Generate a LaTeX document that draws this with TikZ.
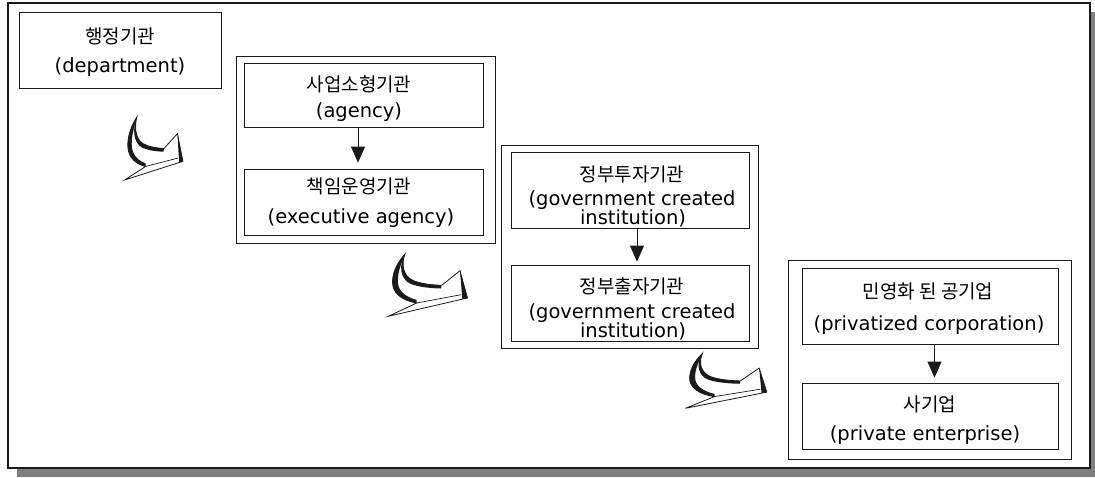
\documentclass[tikz,border=0pt]{standalone}
\usepackage{fontspec}
\setmainfont{DejaVu Sans}
\newfontfamily\kr{Noto Sans CJK KR}
\usetikzlibrary{arrows.meta,calc}
\definecolor{shadowgrey}{HTML}{7F7F7F}
\definecolor{edge}{HTML}{1A1A1A}

\tikzset{
  frameline/.style={draw=edge, line width=1.3pt, fill=white, inner sep=0pt},
  boxnode/.style={draw=edge, line width=0.8pt, inner sep=0pt},
  han/.style={font=\kr\fontsize{19pt}{23pt}\selectfont, inner sep=0pt, anchor=base},
  lat/.style={font=\fontsize{19.5pt}{23pt}\selectfont, inner sep=0pt, anchor=base},
  flow/.style={draw=edge, line width=0.8pt, -{Triangle[width=14pt,length=16pt]}},
  % hollow bent block arrow seen in perspective, with darkened sides
  pics/bendarrow/.style={code={
    % outline: tip, inner bend, notch, barb, head, lower barb, band end
    \draw[edge, line width=0.8pt, line join=miter, fill=white]
      (17,0) .. controls (13,10) and (15,22) .. (25,26.5)
      .. controls (33,30) and (45,31) .. (53.7,31.3)
      -- (72,16.7) -- (79.3,44) -- (0.3,62.3) -- (28.7,49)
      .. controls (12,46) and (4,38) .. (4.5,27)
      .. controls (5,17) and (10,8) .. (17,0) -- cycle;
    % lower face of the head
    \draw[edge, line width=0.7pt] (28.7,49) -- (73,40.7);
    % dark outer side of the band
    \fill[edge] (28.7,49) .. controls (12,46) and (4,38) .. (4.5,27)
      .. controls (5,17) and (10,8) .. (17,0)
      .. controls (14,8) and (9.8,17) .. (9.8,27)
      .. controls (9.8,36) and (16,42.5) .. (28.7,46) -- cycle;
    % dark inner side of the band
    \fill[edge] (17,0) .. controls (13,10) and (15,22) .. (25,26.5)
      .. controls (33,30) and (45,31) .. (53.7,31.3)
      -- (53,34.5) .. controls (45,34.3) and (32,33.5) .. (23,30)
      .. controls (12,25.5) and (10.5,11) .. (17,0) -- cycle;
    % dark side of the head
    \fill[edge] (72,16.7) -- (79.8,44) -- (74.3,44.9) -- cycle;
  }}
}

\begin{document}
\begin{tikzpicture}[x=1pt,y=-1pt]
\useasboundingbox (0,0) rectangle (1095,477);

% outer frame with its drop shadow
\fill[shadowgrey] (17,12) rectangle (1099,477);
\node[frameline, minimum width=1082pt, minimum height=465pt] (frame) at (549,235.5) {};

% stage 1
\node[boxnode, minimum width=202pt, minimum height=76pt] (dept) at (120,50) {};
\node[han] (dept-ko) at (120,43.3) {행정기관};
\node[lat] (dept-en) at (120,72) {(department)};

% stage 2
\node[boxnode, minimum width=259pt, minimum height=187pt] (g2) at (365.5,149.5) {};
\node[boxnode, minimum width=239pt, minimum height=64pt] (agency) at (363.5,95) {};
\node[han] (agency-ko) at (359,91.8) {사업소형기관};
\node[lat] (agency-en) at (359,117.5) {(agency)};
\node[boxnode, minimum width=239pt, minimum height=66pt] (exec) at (363.5,202) {};
\node[han] (exec-ko) at (359,193.8) {책임운영기관};
\node[lat] (exec-en) at (361,223) {(executive agency)};
\draw[flow] ([xshift=-5.5pt]agency.south) -- ([xshift=-5.5pt,yshift=6pt]exec.north);

% stage 3
\node[boxnode, minimum width=257pt, minimum height=203pt] (g3) at (629.5,246.5) {};
\node[boxnode, minimum width=238pt, minimum height=76pt] (gci) at (630,190) {};
\node[han] (gci-ko) at (632,181.8) {정부투자기관};
\node[lat] (gci-en1) at (632,205) {(government created};
\node[lat] (gci-en2) at (633,224.5) {institution)};
\node[boxnode, minimum width=238pt, minimum height=76pt] (gfi) at (630,303) {};
\node[han] (gfi-ko) at (632,293.3) {정부출자기관};
\node[lat] (gfi-en1) at (632,318.5) {(government created};
\node[lat] (gfi-en2) at (633,337.5) {institution)};
\draw[flow] ([xshift=7pt]gci.south) -- ([xshift=7pt,yshift=3pt]gfi.north);

% stage 4
\node[boxnode, minimum width=283pt, minimum height=199pt] (g4) at (929.5,359.5) {};
\node[boxnode, minimum width=256pt, minimum height=76pt] (priv) at (930,306) {};
\node[han] (priv-ko) at (928,298.3) {민영화 된 공기업};
\node[lat] (priv-en) at (929,330) {(privatized corporation)};
\node[boxnode, minimum width=256pt, minimum height=66pt] (ent) at (930,416) {};
\node[han] (ent-ko) at (930,411.8) {사기업};
\node[lat] (ent-en) at (925,440) {(private enterprise)};
\draw[flow] ([xshift=4.5pt]priv.south) -- ([xshift=4.5pt,yshift=5pt]ent.north);

% transitions between stages
\pic[xscale=0.735, yscale=1.015] at (124.5,116.7) {bendarrow};
\pic at (388,254) {bendarrow};
\pic[xscale=1.03, yscale=0.883] at (685,353.3) {bendarrow};
\end{tikzpicture}
\end{document}
